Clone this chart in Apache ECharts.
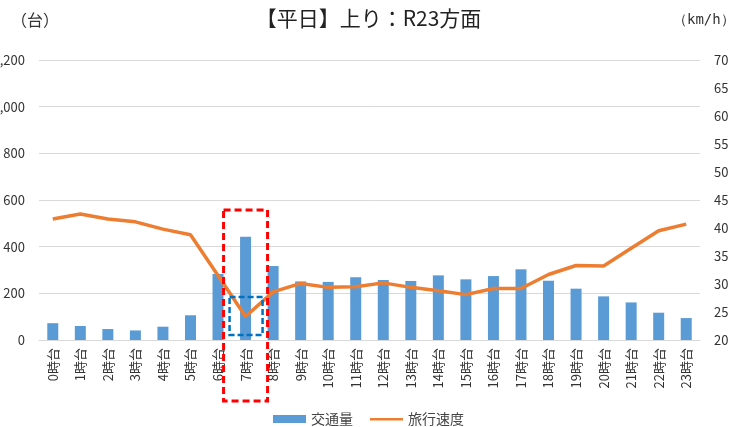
<!DOCTYPE html>
<html>
<head>
<meta charset="utf-8">
<script src="https://cdn.jsdelivr.net/npm/echarts@6/dist/echarts.min.js"></script>
<style>
    html, body { margin: 0; padding: 0; background: #fff; }
    #chart { width: 737px; height: 427px; }
</style>
</head>
<body>
<div id="chart"></div>
<script>
// hour categories
var hours = ['0時台', '1時台', '2時台', '3時台', '4時台', '5時台', '6時台', '7時台', '8時台', '9時台', '10時台', '11時台',
    '12時台', '13時台', '14時台', '15時台', '16時台', '17時台', '18時台', '19時台', '20時台', '21時台', '22時台', '23時台'];
// traffic volume (台)
var traffic = [72, 60, 47, 41, 57, 106, 283, 443, 317, 251, 249, 269, 257, 253, 277, 260, 274, 303, 254, 220, 187, 161, 117, 94];
// travel speed (km/h)
var speed = [41.6, 42.5, 41.6, 41.1, 39.8, 38.8, 31.5, 24.2, 28.6, 30.1, 29.4, 29.5, 30.2, 29.4, 28.8, 28.1, 29.2, 29.2, 31.7, 33.3, 33.2, 36.4, 39.5, 40.7];
var highlightHour = '7時台';

var font = '"Noto Sans CJK JP", sans-serif';
var chart = echarts.init(document.getElementById('chart'));

var options = {
    animation: false,
    title: {
        text: '【平日】上り：R23方面',
        left: 'center',
        top: 3,
        textStyle: { fontFamily: font, fontSize: 21, fontWeight: 'normal', color: '#222' }
    },
    grid: { left: 39, right: 37, top: 60, bottom: 87, outerBoundsMode: 'none' },
    legend: {
        bottom: -4,
        left: 'center',
        itemGap: 17,
        itemWidth: 33,
        itemHeight: 8,
        textStyle: { fontFamily: font, fontSize: 14, color: '#444' },
        data: [
            { name: '交通量', icon: 'rect' },
            // thin line icon: empty sub-paths keep the full icon height
            { name: '旅行速度', icon: 'path://M0,0 L0,0 Z M0,3 L33,3 L33,5.5 L0,5.5 Z M0,8 L0,8 Z' }
        ]
    },
    xAxis: {
        type: 'category',
        data: hours,
        axisTick: { show: false },
        axisLine: { lineStyle: { color: '#d9d9d9' } },
        axisLabel: { rotate: 90, fontFamily: font, fontSize: 13, color: '#333', margin: 8, interval: 0 }
    },
    yAxis: [{
        type: 'value',
        min: 0, max: 1200, interval: 200,
        axisLabel: {
            fontFamily: font, fontSize: 13, color: '#333', margin: 14,
            formatter: function (v) { return v.toLocaleString('en-US'); }
        },
        splitLine: { lineStyle: { color: '#d9d9d9' } }
    }, {
        type: 'value',
        min: 20, max: 70, interval: 5,
        axisLabel: { fontFamily: font, fontSize: 13, color: '#333', margin: 14 },
        splitLine: { show: false }
    }],
    series: [{
        name: '交通量',
        type: 'bar',
        data: traffic,
        barWidth: 11,
        itemStyle: { color: '#5B9BD5' }
    }, {
        name: '旅行速度',
        type: 'line',
        yAxisIndex: 1,
        data: speed,
        symbol: 'none',
        lineStyle: { color: '#ED7D31', width: 3.5 },
        itemStyle: { color: '#ED7D31' }
    }]
};
chart.setOption(options);

// unit labels and highlight boxes around the 7時台 column
var cx = chart.convertToPixel({ xAxisIndex: 0 }, highlightHour);
chart.setOption({
    graphic: [
        { type: 'text', x: 11, y: 12, style: { text: '（台）', fontFamily: font, fontSize: 16, fill: '#333' } },
        { type: 'text', x: 673, y: 13, style: { text: '（km/h）', fontFamily: '"DejaVu Sans Mono", monospace', fontSize: 14, fill: '#333' } },
        {
            type: 'rect', shape: { x: cx - 22, y: 210, width: 44, height: 191 },
            style: { fill: 'none', stroke: '#FF0000', lineWidth: 3, lineDash: [7, 4] }, z: 100
        },
        {
            type: 'rect', shape: { x: cx - 16, y: 297, width: 33, height: 38 },
            style: { fill: 'none', stroke: '#0070C0', lineWidth: 2.5, lineDash: [6, 3] }, z: 100
        }
    ]
});
</script>
</body>
</html>
